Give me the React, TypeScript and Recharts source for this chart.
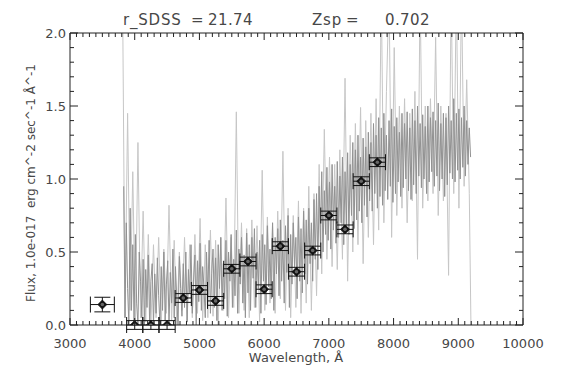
import React from 'react';
import { ComposedChart, Line, Scatter, XAxis, YAxis, ErrorBar } from 'recharts';

const FONT = '"DejaVu Sans", sans-serif';
const TEXT = '#474747';
const AXIS = '#222';

// axis ticks / labels
const xMajorTicks = [3000, 4000, 5000, 6000, 7000, 8000, 9000, 10000];
const xTickLabels = ['3000', '4000', '5000', '6000', '7000', '8000', '9000', '10000'];
const yMajorTicks = [0, 0.5, 1, 1.5, 2];
const yTickLabels = ['0.0', '0.5', '1.0', '1.5', '2.0'];
const xAllTicks = Array.from({ length: 71 }, (_, i) => 3000 + 100 * i);
const yAllTicks = Array.from({ length: 21 }, (_, i) => i / 10);

// raw spectrum (light grey), sampled every 40 A from 3810 A
const specLightStart = 3810;
const specLightStep = 40;
const specLightFlux = [
  2.4, 0.05, 1.45, 0.1, 1.05, 0.0, 1.25, 0.05, 0.78, 0.02,
  0.62, 0.0, 0.55, 0.05, 0.6, 0.0, 0.52, 0.08, 0.82, 0.03,
  0.58, 0.0, 0.5, 0.1, 0.6, 0.02, 0.55, 0.05, 0.62, 0.08,
  0.73, 0.03, 0.55, 0.05, 0.65, 0.06, 0.58, 0.0, 0.6, 0.1,
  0.87, 0.05, 0.6, 0.12, 1.46, 0.08, 0.7, 0.1, 0.66, 0.05,
  0.72, 0.12, 0.68, 0.02, 1.06, 0.1, 0.74, 0.15, 0.7, 0.08,
  0.78, 0.18, 1.19, 0.1, 0.8, 0.05, 0.75, 0.12, 0.85, 0.08,
  0.8, 0.15, 0.95, 0.1, 0.9, 0.2, 1.1, 0.35, 1.34, 0.45,
  1.15, 0.4, 1.1, 0.38, 1.2, 0.45, 1.69, 0.3, 1.3, 0.5,
  1.38, 0.55, 1.49, 0.42, 1.4, 0.6, 1.45, 0.55, 1.55, 0.65,
  2.3, 0.7, 1.6, 2.3, 0.6, 1.9, 0.75, 1.5, 0.8, 1.55,
  0.7, 1.45, 0.85, 1.6, 0.45, 2.3, 0.8, 1.5, 0.85, 1.55,
  0.9, 1.97, 0.75, 1.5, 0.85, 1.45, 0.34, 2.3, 0.9, 2.3,
  0.8, 2.3, 0.95, 1.68, 0.9, -0.5,
];

// dense core of the spectrum (mid grey), sampled every 20 A from 3830 A
const specDarkStart = 3830;
const specDarkStep = 20;
const specDarkFlux = [
  0.95, 0.05, 0.7, 0.25, 0.0, 0.8, 0.1, 0.55, 0.02, 0.62,
  0.15, 0.0, 0.5, 0.3, 0.05, 0.45, 0.0, 0.38, 0.12, 0.48,
  0.02, 0.3, 0.42, 0.0, 0.35, 0.08, 0.46, 0.2, 0.0, 0.4,
  0.1, 0.5, 0.03, 0.28, 0.44, 0.0, 0.36, 0.15, 0.52, 0.05,
  0.4, 0.18, 0.0, 0.47, 0.25, 0.06, 0.42, 0.12, 0.5, 0.02,
  0.38, 0.22, 0.55, 0.08, 0.3, 0.48, 0.0, 0.44, 0.16, 0.56,
  0.1, 0.4, 0.26, 0.05, 0.5, 0.2, 0.58, 0.08, 0.35, 0.52,
  0.12, 0.46, 0.03, 0.55, 0.25, 0.6, 0.1, 0.42, 0.18, 0.58,
  0.06, 0.5, 0.3, 0.62, 0.12, 0.45, 0.2, 0.65, 0.08, 0.52,
  0.28, 0.6, 0.15, 0.48, 0.05, 0.63, 0.22, 0.55, 0.1, 0.6,
  0.32, 0.66, 0.12, 0.5, 0.25, 0.58, 0.08, 0.62, 0.3, 0.55,
  0.14, 0.68, 0.26, 0.52, 0.18, 0.7, 0.1, 0.6, 0.35, 0.66,
  0.2, 0.72, 0.3, 0.58, 0.15, 0.68, 0.36, 0.75, 0.12, 0.62,
  0.28, 0.7, 0.4, 0.6, 0.18, 0.74, 0.3, 0.66, 0.22, 0.78,
  0.35, 0.72, 0.28, 0.8, 0.42, 0.7, 0.3, 0.86, 0.45, 0.9,
  0.38, 0.95, 0.55, 1.05, 0.5, 0.92, 0.62, 1.08, 0.58, 0.98,
  0.52, 1.1, 0.65, 0.95, 0.56, 1.12, 0.6, 1.02, 0.7, 1.15,
  0.55, 1.05, 0.68, 1.18, 0.62, 1.1, 0.75, 1.25, 0.66, 1.2,
  0.72, 1.3, 0.78, 1.15, 0.7, 1.28, 0.82, 1.22, 0.74, 1.32,
  0.85, 1.25, 0.78, 1.38, 0.9, 1.3, 0.8, 1.42, 0.88, 1.35,
  0.82, 1.45, 0.92, 1.3, 0.86, 1.4, 0.95, 1.48, 0.84, 1.36,
  0.9, 1.42, 0.98, 1.32, 0.88, 1.45, 0.94, 1.38, 1.0, 1.46,
  0.92, 1.35, 0.86, 1.48, 0.96, 1.4, 0.9, 1.5, 1.02, 1.38,
  0.94, 1.44, 1.0, 1.36, 0.9, 1.5, 0.98, 1.42, 1.05, 1.46,
  0.95, 1.4, 1.02, 1.52, 0.92, 1.38, 1.0, 1.45, 0.88, 1.42,
  0.96, 1.5, 1.04, 1.4, 1.0, 1.55, 0.98, 1.45, 1.06, 1.48,
  1.0, 1.42, 1.08, 1.5, 1.02, 1.4, 1.1, 1.35, 1.15,
];

// photometric points
const photWave = [3500, 4000, 4250, 4500, 4750, 5000, 5250, 5500, 5750, 6000, 6250, 6500, 6750, 7000, 7250, 7500, 7750];
const photFlux = [0.14, 0, 0, 0, 0.185, 0.24, 0.165, 0.385, 0.435, 0.245, 0.54, 0.365, 0.51, 0.75, 0.655, 0.985, 1.115];
const photWaveErr = [185, 125, 125, 125, 125, 125, 125, 125, 125, 125, 125, 125, 125, 125, 125, 125, 125];
const photFluxErr = [0.05, 0.03, 0.03, 0.03, 0.03, 0.03, 0.03, 0.03, 0.03, 0.03, 0.03, 0.03, 0.03, 0.03, 0.03, 0.03, 0.03];

const lightData = specLightFlux.map((f, i) => ({ w: specLightStart + specLightStep * i, f }));
const darkData = specDarkFlux.map((f, i) => ({ w: specDarkStart + specDarkStep * i, f }));
const photData = photWave.map((w, i) => ({ w, f: photFlux[i], xe: photWaveErr[i], ye: photFluxErr[i] }));

const BottomTick = (p: any) => {
  const v = p.payload.value;
  const m = xMajorTicks.indexOf(v);
  return (
    <g>
      <line x1={p.x} x2={p.x} y1={p.y} y2={p.y - (m >= 0 ? 7 : 4)} stroke={AXIS} strokeWidth={1} />
      {m >= 0 && (
        <text x={p.x} y={p.y + 23} textAnchor="middle" fontSize={13} fontFamily={FONT} fill={TEXT}>
          {xTickLabels[m]}
        </text>
      )}
    </g>
  );
};

const TopTick = (p: any) => {
  const v = p.payload.value;
  const m = xMajorTicks.indexOf(v);
  return <line x1={p.x} x2={p.x} y1={p.y} y2={p.y + (m >= 0 ? 7 : 4)} stroke={AXIS} strokeWidth={1} />;
};

const LeftTick = (p: any) => {
  const v = p.payload.value;
  const m = yMajorTicks.indexOf(v);
  return (
    <g>
      <line x1={p.x} x2={p.x + (m >= 0 ? 8 : 4)} y1={p.y} y2={p.y} stroke={AXIS} strokeWidth={1} />
      {m >= 0 && (
        <text x={p.x - 4} y={p.y + 5} textAnchor="end" fontSize={13} fontFamily={FONT} fill={TEXT}>
          {yTickLabels[m]}
        </text>
      )}
    </g>
  );
};

const RightTick = (p: any) => {
  const v = p.payload.value;
  const m = yMajorTicks.indexOf(v);
  return <line x1={p.x} x2={p.x - (m >= 0 ? 8 : 4)} y1={p.y} y2={p.y} stroke={AXIS} strokeWidth={1} />;
};

const Marker = (p: any) => {
  const { cx, cy } = p;
  if (cx == null || cy == null) return null;
  const r = 4.5;
  return (
    <g>
      <path d={`M${cx},${cy - r}L${cx + r},${cy}L${cx},${cy + r}L${cx - r},${cy}Z`} fill="#111" stroke="#111" strokeWidth={0.8} />
      <circle cx={cx} cy={cy} r={1.8} fill="#666" />
    </g>
  );
};

export default function App() {
  return (
    <div style={{ position: 'absolute', left: 0, top: 0, width: 568, height: 369, background: '#fff' }}>
      <ComposedChart width={568} height={369} margin={{ top: 0, right: 0, bottom: 0, left: 0 }}>
        <XAxis
          xAxisId="b"
          type="number"
          dataKey="w"
          domain={[3000, 10000]}
          ticks={xAllTicks}
          interval={0}
          allowDataOverflow
          orientation="bottom"
          height={44}
          tickSize={0}
          tickMargin={0}
          tickLine={false}
          axisLine={{ stroke: AXIS, strokeWidth: 1 }}
          tick={<BottomTick />}
        />
        <XAxis
          xAxisId="t"
          type="number"
          dataKey="w"
          domain={[3000, 10000]}
          ticks={xAllTicks}
          interval={0}
          allowDataOverflow
          orientation="top"
          height={33}
          tickSize={0}
          tickMargin={0}
          tickLine={false}
          axisLine={{ stroke: AXIS, strokeWidth: 1 }}
          tick={<TopTick />}
        />
        <YAxis
          yAxisId="l"
          type="number"
          dataKey="f"
          domain={[0, 2]}
          ticks={yAllTicks}
          interval={0}
          allowDataOverflow
          orientation="left"
          width={70}
          tickSize={0}
          tickMargin={0}
          tickLine={false}
          axisLine={{ stroke: AXIS, strokeWidth: 1 }}
          tick={<LeftTick />}
        />
        <YAxis
          yAxisId="r"
          type="number"
          dataKey="f"
          domain={[0, 2]}
          ticks={yAllTicks}
          interval={0}
          allowDataOverflow
          orientation="right"
          width={45}
          tickSize={0}
          tickMargin={0}
          tickLine={false}
          axisLine={{ stroke: AXIS, strokeWidth: 1 }}
          tick={<RightTick />}
        />
        <Line
          data={lightData}
          xAxisId="b"
          yAxisId="l"
          dataKey="f"
          type="linear"
          stroke="#c6c6c6"
          strokeWidth={1}
          dot={false}
          activeDot={false}
          isAnimationActive={false}
        />
        <Line
          data={darkData}
          xAxisId="b"
          yAxisId="l"
          dataKey="f"
          type="linear"
          stroke="#929292"
          strokeWidth={1}
          dot={false}
          activeDot={false}
          isAnimationActive={false}
        />
        <Scatter
          data={photData}
          xAxisId="b"
          yAxisId="l"
          dataKey="f"
          shape={<Marker />}
          isAnimationActive={false}
        >
          <ErrorBar dataKey="xe" direction="x" width={8} stroke="#111" strokeWidth={1} isAnimationActive={false} />
          <ErrorBar dataKey="ye" direction="y" width={8} stroke="#111" strokeWidth={1} isAnimationActive={false} />
        </Scatter>
      </ComposedChart>
      <svg
        width={568}
        height={369}
        style={{ position: 'absolute', left: 0, top: 0, pointerEvents: 'none' }}
        fontFamily={FONT}
        fill={TEXT}
      >
        <text x={123} y={25} fontSize={15} letterSpacing={0.8}>r_SDSS</text>
        <text x={191} y={25} fontSize={15}>=</text>
        <text x={208} y={25} fontSize={15} letterSpacing={0.4}>21.74</text>
        <text x={312} y={25} fontSize={15} letterSpacing={0.8}>Zsp</text>
        <text x={346} y={25} fontSize={15}>=</text>
        <text x={385} y={25} fontSize={15} letterSpacing={0.4}>0.702</text>
        <text x={296} y={362} fontSize={13} textAnchor="middle">Wavelength, Å</text>
        <text
          x={35}
          y={183}
          fontSize={12}
          textAnchor="middle"
          transform="rotate(-90 35 183)"
          style={{ whiteSpace: 'pre' }}
        >
          {'Flux, 1.0e-017  erg cm^-2 sec^-1 Å^-1'}
        </text>
      </svg>
    </div>
  );
}
